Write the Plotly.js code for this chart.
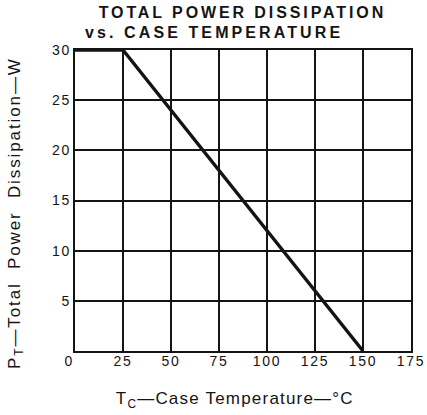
<!DOCTYPE html>
<html><head><meta charset="utf-8">
<script src="https://cdn.plot.ly/plotly-3.0.1.min.js"></script>
<style>
html,body{margin:0;padding:0;background:#fff;}
#chart{width:427px;height:415px;}
.xtick text,.ytick text{letter-spacing:1.8px;}
.annotation[data-index="0"] text{letter-spacing:2.9px;}
.annotation[data-index="1"] text{letter-spacing:3.1px;}
.annotation[data-index="2"] text{letter-spacing:1.2px;}
.annotation[data-index="3"] text{letter-spacing:1.9px;}
</style>
</head><body><div id="chart"></div>
<script>
const caseTemp = [0, 25, 150];
const powerDiss = [30, 30, 0];
const xTicks = [0, 25, 50, 75, 100, 125, 150, 175];
const xTickText = ['0\u00A0\u00A0', '25', '50', '75', '100', '125', '150', '175'];
const yTicks = [0, 5, 10, 15, 20, 25, 30];
const yTickText = ['', '5', '10', '15', '20', '25', '30'];
const titleLines = ['TOTAL POWER DISSIPATION', 'vs. CASE TEMPERATURE'];
const xTitle = 'T<sub>C</sub>—Case Temperature—°C';
const yTitle = 'P<sub>T</sub>—Total  Power  Dissipation—W';

const fontFam = '"Liberation Sans", Arial, sans-serif';
const ink = '#141414';
const L = 75, T = 50, W = 336, H = 301;
const px = v => (v - L) / W;
const py = v => (T + H - v) / H;
const trace = {
  x: caseTemp, y: powerDiss, mode: 'lines', type: 'scatter',
  line: {color: ink, width: 3.4}, hoverinfo: 'skip', showlegend: false
};
const layout = {
  width: 427, height: 415,
  margin: {l: L, r: 427 - L - W, t: T, b: 415 - T - H},
  paper_bgcolor: '#fff', plot_bgcolor: '#fff',
  font: {family: fontFam, color: ink, size: 14},
  annotations: [
    {text: '<b>' + titleLines[0] + '</b>', xref: 'paper', yref: 'paper', x: px(242), y: py(12.5),
     xanchor: 'center', yanchor: 'middle', showarrow: false, font: {family: fontFam, size: 16, color: ink}},
    {text: '<b>' + titleLines[1] + '</b>', xref: 'paper', yref: 'paper', x: px(214), y: py(32),
     xanchor: 'center', yanchor: 'middle', showarrow: false, font: {family: fontFam, size: 16, color: ink}},
    {text: xTitle, xref: 'paper', yref: 'paper', x: px(235), y: py(400),
     xanchor: 'center', yanchor: 'middle', showarrow: false, font: {family: fontFam, size: 17, color: ink}},
    {text: yTitle, xref: 'paper', yref: 'paper', x: px(15.5), y: py(213), textangle: -90,
     xanchor: 'center', yanchor: 'middle', showarrow: false, font: {family: fontFam, size: 17, color: ink}}
  ],
  xaxis: {
    range: [0, 175], tickvals: xTicks, ticktext: xTickText,
    showgrid: true, gridcolor: ink, gridwidth: 2,
    showline: true, linecolor: ink, linewidth: 2, mirror: true,
    zeroline: false, ticks: '', ticklen: 0, ticklabelstandoff: -4,
    tickfont: {size: 14, family: fontFam, color: ink}
  },
  yaxis: {
    range: [0, 30], tickvals: yTicks, ticktext: yTickText,
    showgrid: true, gridcolor: ink, gridwidth: 2,
    showline: true, linecolor: ink, linewidth: 2, mirror: true,
    zeroline: false, ticks: '', ticklen: 0, ticklabelstandoff: -1,
    tickfont: {size: 14, family: fontFam, color: ink}
  }
};
Plotly.newPlot('chart', [trace], layout, {staticPlot: true, displayModeBar: false});
</script></body></html>
